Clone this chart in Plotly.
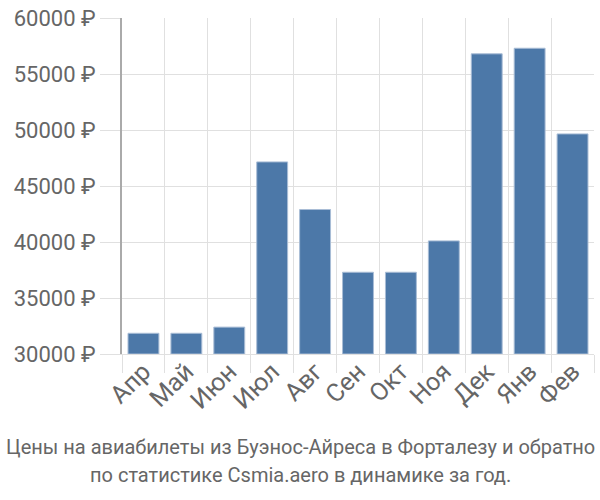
import plotly.graph_objects as go

months = ["Апр", "Май", "Июн", "Июл", "Авг", "Сен", "Окт", "Ноя", "Дек", "Янв", "Фев"]
prices = [31850, 31850, 32400, 47150, 42900, 37300, 37300, 40100, 56800, 57300, 49650]
y_ticks = [30000, 35000, 40000, 45000, 50000, 55000, 60000]
y_labels = [f"{v} ₽" for v in y_ticks]
title_lines = ["Цены на авиабилеты из Буэнос-Айреса в Форталезу и обратно",
               "по статистике Csmia.aero в динамике за год."]

fig = go.Figure(go.Bar(
    x=months, y=[p - 30000 for p in prices], base=30000,
    marker=dict(color="#4c78a8", line=dict(color="#a9bdd6", width=1)),
    width=0.72,
))

fig.update_layout(
    width=600, height=500,
    margin=dict(l=122, r=6, t=14, b=146),
    plot_bgcolor="white", paper_bgcolor="white",
    showlegend=False,
    font=dict(family="Roboto, Liberation Sans, sans-serif", color="#666666"),
    xaxis=dict(
        type="category", tickson="boundaries", showgrid=True, gridcolor="#e0e0e0",
        gridwidth=1, ticks="outside", ticklen=18, tickcolor="#e0e0e0",
        tickangle=-45, tickfont=dict(size=25, color="#666666"),
        ticklabelstandoff=-8,
        showline=True, linecolor="#e0e0e0", range=[-0.5, 10.5],
    ),
    yaxis=dict(
        range=[30000, 60000], tickvals=y_ticks, ticktext=y_labels,
        showgrid=True, gridcolor="#e0e0e0", gridwidth=1,
        ticks="outside", ticklen=20, tickcolor="#e0e0e0",
        tickfont=dict(size=22, color="#666666"),
        showline=True, linecolor="#aaaaaa", linewidth=2, zeroline=False,
    ),
    annotations=[
        dict(text=title_lines[0], xref="paper", yref="paper",
             x=0.5, y=0, xanchor="center", yanchor="middle", yshift=-93, xshift=-58,
             showarrow=False, font=dict(size=20, color="#666666")),
        dict(text=title_lines[1], xref="paper", yref="paper",
             x=0.5, y=0, xanchor="center", yanchor="middle", yshift=-121, xshift=-58,
             showarrow=False, font=dict(size=20, color="#666666")),
    ],
)

fig.write_html("out.html")
